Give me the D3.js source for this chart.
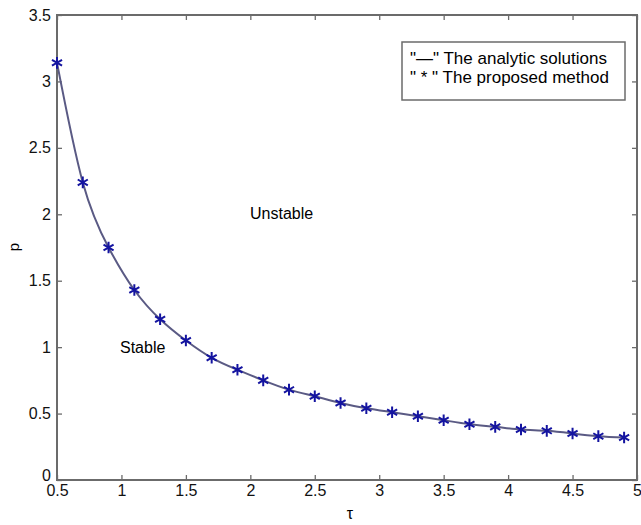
<!DOCTYPE html>
<html>
<head>
<meta charset="utf-8">
<script src="https://cdn.jsdelivr.net/npm/d3@7"></script>
<style>
  body { margin: 0; background: #fff; }
  svg { display: block; font-family: "Liberation Sans", Arial, sans-serif; }
</style>
</head>
<body>
<svg id="chart" width="641" height="525"></svg>
<script>
// delay values (tau) and the stability bound p
const tau = [0.5, 0.7, 0.9, 1.1, 1.3, 1.5, 1.7, 1.9, 2.1, 2.3, 2.5, 2.7,
             2.9, 3.1, 3.3, 3.5, 3.7, 3.9, 4.1, 4.3, 4.5, 4.7, 4.9];
const pAnalytic = [3.14, 2.24, 1.75, 1.43, 1.21, 1.05, 0.92, 0.83, 0.75, 0.68, 0.63, 0.58,
                   0.54, 0.51, 0.48, 0.45, 0.42, 0.40, 0.38, 0.37, 0.35, 0.33, 0.32];
const pProposed = [3.14, 2.24, 1.75, 1.43, 1.21, 1.05, 0.92, 0.83, 0.75, 0.68, 0.63, 0.58,
                   0.54, 0.51, 0.48, 0.45, 0.42, 0.40, 0.38, 0.37, 0.35, 0.33, 0.32];
const xTicks = [0.5, 1, 1.5, 2, 2.5, 3, 3.5, 4, 4.5, 5];
const yTicks = [0, 0.5, 1, 1.5, 2, 2.5, 3, 3.5];
const legendLabels = ['"\u2014" The analytic solutions', '" * " The proposed method'];

const svg = d3.select("#chart");
const plotL = 57, plotR = 637, plotT = 15, plotB = 480;

const x = d3.scaleLinear().domain([0.5, 5]).range([plotL, plotR]);
const y = d3.scaleLinear().domain([0, 3.5]).range([plotB, plotT]);

const axisColor = "#6b6b6b";

// ticks on all four sides, pointing inwards (matlab style)
svg.append("g")
    .attr("transform", "translate(0," + plotB + ")")
    .call(d3.axisBottom(x).tickValues(xTicks).tickSize(-5).tickSizeOuter(0).tickPadding(5)
        .tickFormat(d3.format("")))
    .call(g => g.select(".domain").remove())
    .call(g => g.selectAll("line").attr("stroke", axisColor).attr("stroke-width", 1.3))
    .selectAll("text")
        .style("font-size", "16px")
        .attr("fill", "#111");
svg.append("g")
    .attr("transform", "translate(0," + plotT + ")")
    .call(d3.axisTop(x).tickValues(xTicks).tickSize(-5).tickSizeOuter(0).tickFormat(""))
    .call(g => g.select(".domain").remove())
    .call(g => g.selectAll("line").attr("stroke", axisColor).attr("stroke-width", 1.3));
svg.append("g")
    .attr("transform", "translate(" + plotL + ",0)")
    .call(d3.axisLeft(y).tickValues(yTicks).tickSize(-5).tickSizeOuter(0).tickPadding(6)
        .tickFormat(d3.format("")))
    .call(g => g.select(".domain").remove())
    .call(g => g.selectAll("line").attr("stroke", axisColor).attr("stroke-width", 1.3))
    .selectAll("text")
        .style("font-size", "16px")
        .attr("fill", "#111")
        // lift the "0" a little so it sits just above "0.5"
        .attr("dy", d => d === 0 ? "0.05em" : "0.32em");

// frame
svg.append("rect")
    .attr("x", plotL).attr("y", plotT)
    .attr("width", plotR - plotL).attr("height", plotB - plotT)
    .attr("fill", "none")
    .attr("stroke", axisColor)
    .attr("stroke-width", 2);

svg.append("g")
    .attr("transform", "translate(" + plotR + ",0)")
    .call(d3.axisRight(y).tickValues(yTicks).tickSize(-5).tickSizeOuter(0).tickFormat(""))
    .call(g => g.select(".domain").remove())
    .call(g => g.selectAll("line").attr("stroke", axisColor).attr("stroke-width", 1.3));

// analytic curve
const line = d3.line()
    .x((d, i) => x(tau[i]))
    .y(d => y(d))
    .curve(d3.curveNatural);
svg.append("path")
    .datum(pAnalytic)
    .attr("d", line)
    .attr("fill", "none")
    .attr("stroke", "#5a5a84")
    .attr("stroke-width", 2);

// proposed method markers (asterisks)
const star = d3.symbol().type(d3.symbolAsterisk).size(95);
svg.selectAll(".pt")
    .data(pProposed)
    .enter()
    .append("path")
      .attr("class", "pt")
      .attr("transform", (d, i) => "translate(" + x(tau[i]) + "," + y(d) + ")")
      .attr("d", star)
      .attr("fill", "none")
      .attr("stroke", "#1414a0")
      .attr("stroke-width", 2);

// region labels
svg.append("text")
    .attr("x", 250).attr("y", 219)
    .style("font-size", "16px")
    .text("Unstable");
svg.append("text")
    .attr("x", 120).attr("y", 353)
    .style("font-size", "16px")
    .text("Stable");

// axis titles
svg.append("text")
    .attr("transform", "translate(19,247) rotate(-90)")
    .attr("text-anchor", "middle")
    .style("font-size", "15px")
    .text("p");
svg.append("text")
    .attr("x", x(2.75) + 3).attr("y", 519)
    .attr("text-anchor", "middle")
    .style("font-size", "16px")
    .text("\u03c4");

// legend
const lg = svg.append("g");
lg.append("rect")
    .attr("x", 402).attr("y", 42)
    .attr("width", 223).attr("height", 58)
    .attr("fill", "#fff")
    .attr("stroke", axisColor)
    .attr("stroke-width", 1.5);
lg.selectAll("text")
    .data(legendLabels)
    .enter()
    .append("text")
      .attr("x", 410)
      .attr("y", (d, i) => 64 + i * 19)
      .style("font-size", "17px")
      .text(d => d);
</script>
</body>
</html>
